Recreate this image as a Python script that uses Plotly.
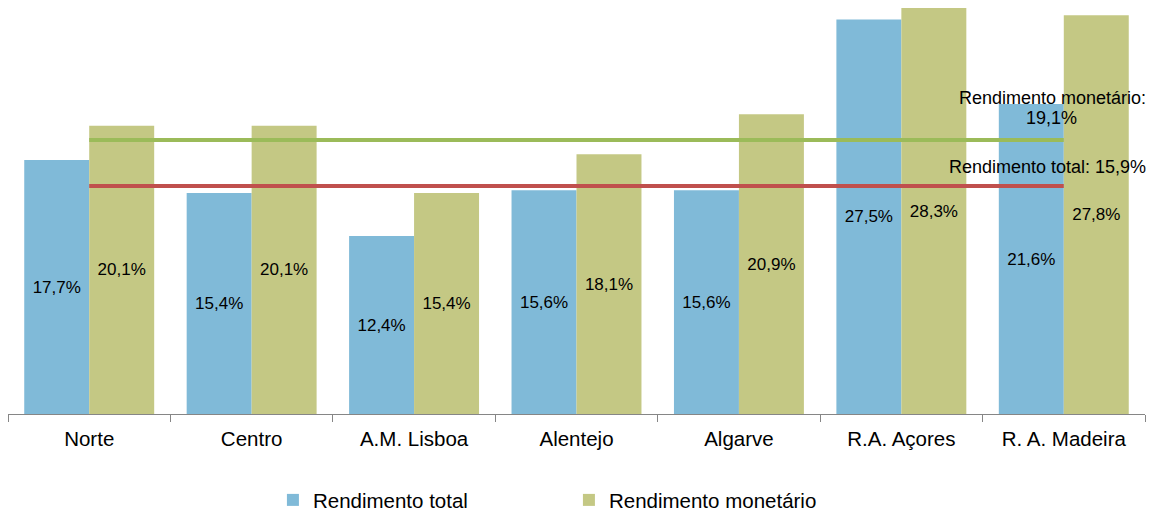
import plotly.graph_objects as go

categories = ["Norte", "Centro", "A.M. Lisboa", "Alentejo", "Algarve", "R.A. Açores", "R. A. Madeira"]
rend_total = [17.7, 15.4, 12.4, 15.6, 15.6, 27.5, 21.6]
rend_monetario = [20.1, 20.1, 15.4, 18.1, 20.9, 28.3, 27.8]
media_total = 15.9
media_monetario = 19.1

def fmt(v):
    return f"{v:.1f}".replace(".", ",") + "%"

FONT = "Liberation Sans, Arial, sans-serif"
BLUE = "#80BAD8"
GREEN = "#C4C884"

fig = go.Figure()
fig.add_trace(go.Bar(
    x=categories, y=rend_total, name="Rendimento total",
    marker=dict(color=BLUE, line=dict(width=0)),
    text=[fmt(v) for v in rend_total], textposition="inside",
    insidetextanchor="middle", textangle=0,
    textfont=dict(family=FONT, size=17, color="#000000"),
))
fig.add_trace(go.Bar(
    x=categories, y=rend_monetario, name="Rendimento monetário",
    marker=dict(color=GREEN, line=dict(width=0)),
    text=[fmt(v) for v in rend_monetario], textposition="inside",
    insidetextanchor="middle", textangle=0,
    textfont=dict(family=FONT, size=17, color="#000000"),
))
fig.add_trace(go.Scatter(
    x=categories, y=[media_monetario] * len(categories), mode="lines",
    line=dict(color="#9BBB59", width=4), showlegend=False, hoverinfo="skip",
))
fig.add_trace(go.Scatter(
    x=categories, y=[media_total] * len(categories), mode="lines",
    line=dict(color="#C0504D", width=4), showlegend=False, hoverinfo="skip",
))

fig.add_annotation(x=1.0, xref="paper", xshift=3, y=22.0, yref="y", text="Rendimento monetário:",
                   showarrow=False, xanchor="right", yanchor="middle",
                   font=dict(family=FONT, size=18, color="#000000"))
fig.add_annotation(x=categories[-1], xref="x", xshift=-12, y=20.6, yref="y", text=fmt(media_monetario),
                   showarrow=False, xanchor="center", yanchor="middle",
                   font=dict(family=FONT, size=18, color="#000000"))
fig.add_annotation(x=1.0, xref="paper", xshift=3, y=17.2, yref="y", text=f"Rendimento total: {fmt(media_total)}",
                   showarrow=False, xanchor="right", yanchor="middle",
                   font=dict(family=FONT, size=18, color="#000000"))

fig.update_layout(
    width=1154, height=515,
    margin=dict(l=0, r=17, t=0, b=109),
    paper_bgcolor="white", plot_bgcolor="white",
    barmode="group", bargap=0.2, bargroupgap=0,
    font=dict(family=FONT, size=20.5, color="#000000"),
    showlegend=True,
    legend=dict(orientation="h", x=0.233, xanchor="left", y=-0.212, yanchor="middle",
                entrywidth=251, entrywidthmode="pixels",
                font=dict(family=FONT, size=20.5, color="#000000")),
    xaxis=dict(showline=True, linecolor="#868686", linewidth=1,
               ticks="outside", tickson="boundaries", ticklen=7, tickcolor="#868686",
               tickfont=dict(family=FONT, size=20.5, color="#000000"),
               ticklabelstandoff=6,
               showgrid=False, zeroline=False),
    yaxis=dict(range=[0, 28.3], visible=False, showgrid=False, zeroline=False),
)

fig.write_html("out.html")
